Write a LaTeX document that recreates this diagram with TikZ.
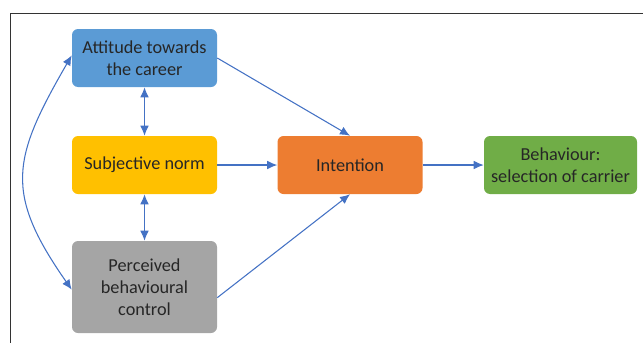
\documentclass[tikz,border=0pt]{standalone}
\usepackage{fontspec}
\setmainfont{Carlito}
\usetikzlibrary{arrows.meta}

\definecolor{attblue}{HTML}{5B9BD5}
\definecolor{normgold}{HTML}{FFC000}
\definecolor{intorange}{HTML}{ED7D31}
\definecolor{behgreen}{HTML}{70AD47}
\definecolor{pbcgray}{HTML}{A5A5A5}
\definecolor{linkblue}{HTML}{4472C4}
\definecolor{txtgray}{HTML}{262626}

\tikzset{
	every picture/.append style={font=\fontsize{13.7}{16.5}\selectfont},
	mynode/.style = {rectangle, rounded corners=4.5pt, align=center, text=txtgray,
		minimum width=108.75pt, minimum height=43.5pt, inner sep=2pt},
	myedge/.style = {draw=linkblue, line width=0.8pt, -{Latex[length=7.5pt,width=6.5pt]}},
	myedgeb/.style = {draw=linkblue, line width=0.8pt, {Latex[length=7.5pt,width=6.5pt]}-{Latex[length=7.5pt,width=6.5pt]}}
}

\begin{document}
\begin{tikzpicture}[x=0.75pt,y=-0.75pt]
				\useasboundingbox (0,0) rectangle (643,343);
				\draw[color=black!80, line width=0.9pt] (643,13.5) -- (10.5,13.5) -- (10.5,343);
				\node[mynode, fill=attblue] at (144.5,58) (att) {Attitude towards\\the career};
				\node[mynode, fill=normgold] at (144.5,165) (norm) {Subjective norm};
				\node[mynode, fill=pbcgray, minimum height=69pt] at (144.5,287) (pbc) {Perceived\\behavioural\\control};
				\node[mynode, fill=intorange] at (350,165) (intent) {Intention};
				\node[mynode, fill=behgreen, minimum width=114.75pt] at (560.5,165) (behav) {Behaviour:\\selection of carrier};
				\path (att) edge [myedgeb] (norm);
				\path (norm) edge [myedgeb] (pbc);
				\path (att.east) edge [myedge] (intent.north);
				\path (norm) edge [myedge] (intent);
				\path ([yshift=-8pt]pbc.east) edge [myedge] (intent.south);
				\path (intent) edge [myedge] (behav);
				\path ([yshift=2pt]att.west) edge [myedgeb, out=240, in=125, looseness=1.3] ([yshift=-2pt]pbc.west);
			\end{tikzpicture}
\end{document}
